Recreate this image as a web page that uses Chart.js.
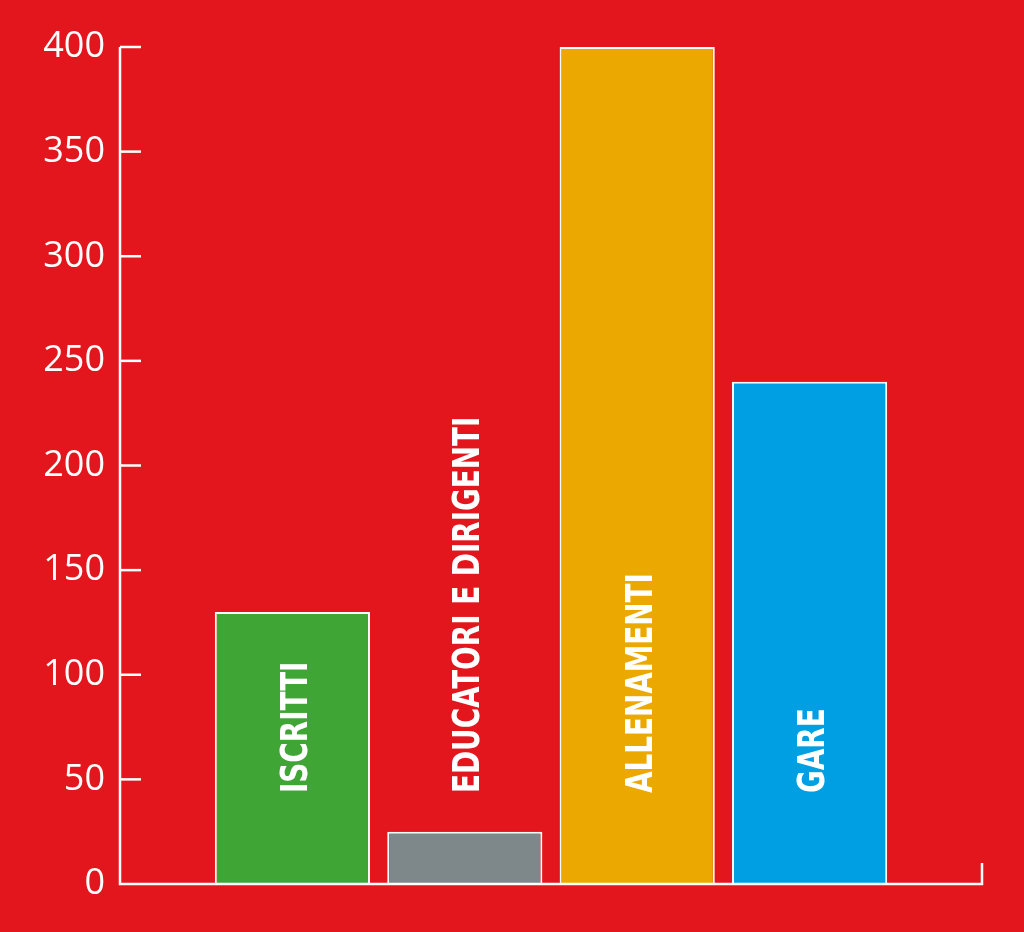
<!DOCTYPE html>
<html><head><meta charset="utf-8">
<script src="https://cdn.jsdelivr.net/npm/chart.js@4"></script>
<style>html,body{margin:0;padding:0;background:#E3151D;}#wrap{width:1024px;height:932px;}</style>
</head><body><div id="wrap"><canvas id="c" width="1024" height="932"></canvas></div>
<script>
const categories = ['ISCRITTI', 'EDUCATORI E DIRIGENTI', 'ALLENAMENTI', 'GARE'];
const values = [130, 25, 400, 240];
const barColors = ['#3FA535', '#7E878A', '#EBA900', '#009FE3'];
const yTicks = [0, 50, 100, 150, 200, 250, 300, 350, 400];

const labels = [''].concat(categories, ['']);
const data = [null].concat(values, [null]);
const colors = ['#000'].concat(barColors, ['#000']);

const axisPlugin = {
  id: 'axisPlugin',
  afterDatasetsDraw(chart) {
    const ctx = chart.ctx, a = chart.chartArea, y = chart.scales.y;
    ctx.save();
    ctx.strokeStyle = '#fff';
    ctx.lineWidth = 2.5;
    ctx.lineCap = 'butt';
    ctx.beginPath();
    ctx.moveTo(a.left, y.getPixelForValue(400));
    ctx.lineTo(a.left, a.bottom);
    ctx.lineTo(a.right, a.bottom);
    ctx.lineTo(a.right, a.bottom - 21);
    ctx.stroke();
    yTicks.forEach(v => {
      if (v === 0) return;
      const py = y.getPixelForValue(v);
      ctx.beginPath();
      ctx.moveTo(a.left, py);
      ctx.lineTo(a.left + 21, py);
      ctx.stroke();
    });
    // bar labels
    const meta = chart.getDatasetMeta(0);
    ctx.fillStyle = '#fff';
    ctx.font = "bold 37px 'Liberation Sans Narrow', 'DejaVu Sans Condensed', sans-serif";
    ctx.textAlign = 'left';
    ctx.textBaseline = 'middle';
    categories.forEach((name, i) => {
      const el = meta.data[i + 1];
      ctx.save();
      ctx.translate(el.x + 5, 793);
      ctx.rotate(-Math.PI / 2);
      ctx.scale(0.835, 1);
      ctx.fillText(name, 0, 0);
      ctx.restore();
    });
    ctx.restore();
  }
};

new Chart(document.getElementById('c'), {
  type: 'bar',
  data: {
    labels: labels,
    datasets: [{
      data: data,
      backgroundColor: colors,
      borderColor: '#fff',
      borderWidth: 2,
      barPercentage: 0.9,
      categoryPercentage: 1
    }]
  },
  options: {
    responsive: false,
    animation: false,
    layout: { padding: { left: 0, top: 47, right: 42, bottom: 48 } },
    plugins: { legend: { display: false }, tooltip: { enabled: false } },
    scales: {
      x: { display: false, offset: false, grid: { display: false } },
      y: {
        min: 0, max: 400,
        afterFit(s) { s.width = 120; },
        afterBuildTicks(s) { s.ticks = yTicks.map(v => ({ value: v })); },
        grid: { display: false, drawTicks: false },
        border: { display: false },
        ticks: {
          color: '#fff',
          padding: 15,
          font: { family: "'Open Sans', sans-serif", size: 36, weight: 'normal' }
        }
      }
    }
  },
  plugins: [axisPlugin]
});
</script>
</body></html>
